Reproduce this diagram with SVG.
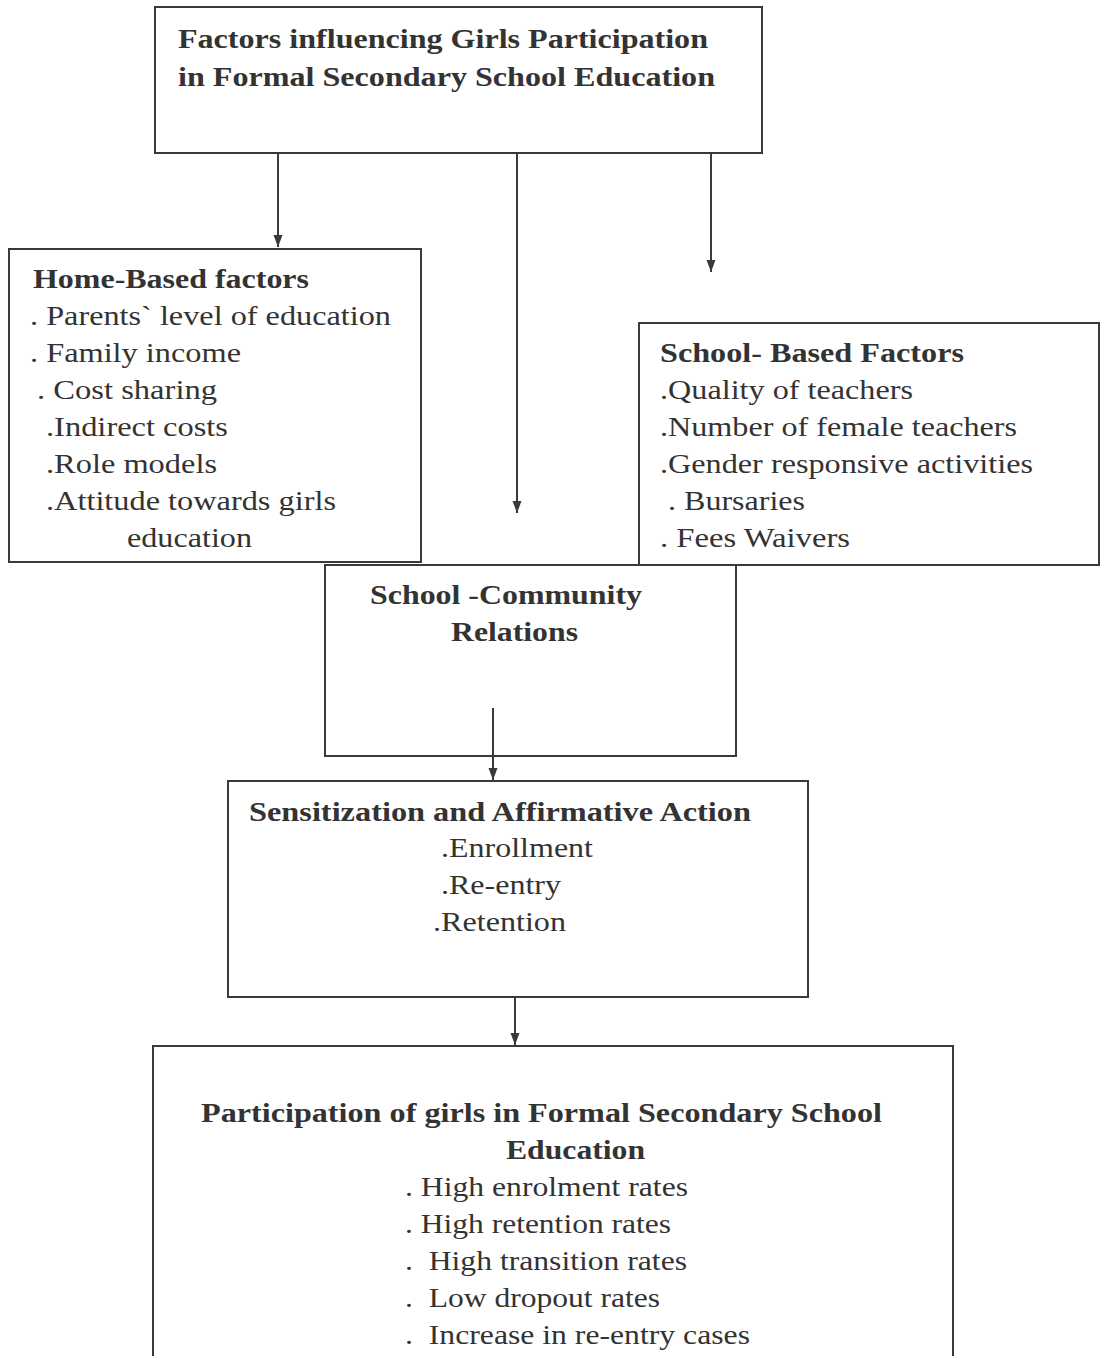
<svg xmlns="http://www.w3.org/2000/svg" width="1104" height="1356" viewBox="0 0 1104 1356">
<style>
.box{fill:none;stroke:#3a3a3a;stroke-width:2}
.t{font-family:"Liberation Serif","Times New Roman",Times,serif;font-size:28px;fill:#333;white-space:pre}
.b{font-family:"Liberation Serif","Times New Roman",Times,serif;font-size:27px;font-weight:bold;fill:#333;white-space:pre}
.c{stroke:#3a3a3a;stroke-width:2;fill:none}
</style>
<defs>
<marker id="ah" viewBox="0 0 12 10" refX="12" refY="5" markerWidth="12" markerHeight="10" markerUnits="userSpaceOnUse" orient="auto">
<path d="M0,0.5 L12,5 L0,9.5 z" fill="#3a3a3a"/>
</marker>
</defs>
<rect width="1104" height="1356" fill="#fff"/>
<g id="connectors">
<line class="c" x1="278" y1="153" x2="278" y2="247" marker-end="url(#ah)"/>
<line class="c" x1="517" y1="153" x2="517" y2="513" marker-end="url(#ah)"/>
<line class="c" x1="711" y1="153" x2="711" y2="272" marker-end="url(#ah)"/>
<line class="c" x1="493" y1="708" x2="493" y2="780" marker-end="url(#ah)"/>
<line class="c" x1="515" y1="997" x2="515" y2="1045" marker-end="url(#ah)"/>
</g>
<g id="node-top">
<rect class="box" x="155" y="7" width="607" height="146"/>
<text class="b" x="178" y="48" textLength="530" lengthAdjust="spacingAndGlyphs">Factors influencing Girls Participation</text>
<text class="b" x="178" y="86" textLength="537" lengthAdjust="spacingAndGlyphs">in Formal Secondary School Education</text>
</g>
<g id="node-home">
<rect class="box" x="9" y="249" width="412" height="313"/>
<text class="b" x="33" y="288" textLength="276" lengthAdjust="spacingAndGlyphs">Home-Based factors</text>
<text class="t" x="30" y="325" textLength="361" lengthAdjust="spacingAndGlyphs">. Parents` level of education</text>
<text class="t" x="30" y="362" textLength="211" lengthAdjust="spacingAndGlyphs">. Family income</text>
<text class="t" x="37" y="399" textLength="180" lengthAdjust="spacingAndGlyphs">. Cost sharing</text>
<text class="t" x="46" y="436" textLength="182" lengthAdjust="spacingAndGlyphs">.Indirect costs</text>
<text class="t" x="46" y="473" textLength="171" lengthAdjust="spacingAndGlyphs">.Role models</text>
<text class="t" x="46" y="510" textLength="290" lengthAdjust="spacingAndGlyphs">.Attitude towards girls</text>
<text class="t" x="127" y="547" textLength="125" lengthAdjust="spacingAndGlyphs">education</text>
</g>
<g id="node-school">
<rect class="box" x="639" y="323" width="460" height="242"/>
<text class="b" x="660" y="362" textLength="304" lengthAdjust="spacingAndGlyphs">School- Based Factors</text>
<text class="t" x="660" y="399" textLength="253" lengthAdjust="spacingAndGlyphs">.Quality of teachers</text>
<text class="t" x="660" y="436" textLength="357" lengthAdjust="spacingAndGlyphs">.Number of female teachers</text>
<text class="t" x="660" y="473" textLength="373" lengthAdjust="spacingAndGlyphs">.Gender responsive activities</text>
<text class="t" x="668" y="510" textLength="137" lengthAdjust="spacingAndGlyphs">. Bursaries</text>
<text class="t" x="660" y="547" textLength="190" lengthAdjust="spacingAndGlyphs">. Fees Waivers</text>
</g>
<g id="node-community">
<rect class="box" x="325" y="565" width="411" height="191"/>
<text class="b" x="370" y="604" textLength="272" lengthAdjust="spacingAndGlyphs">School -Community</text>
<text class="b" x="451" y="641" textLength="127" lengthAdjust="spacingAndGlyphs">Relations</text>
</g>
<g id="node-sensitization">
<rect class="box" x="228" y="781" width="580" height="216"/>
<text class="b" x="249" y="821" textLength="502" lengthAdjust="spacingAndGlyphs">Sensitization and Affirmative Action</text>
<text class="t" x="441" y="857" textLength="152" lengthAdjust="spacingAndGlyphs">.Enrollment</text>
<text class="t" x="441" y="894" textLength="120" lengthAdjust="spacingAndGlyphs">.Re-entry</text>
<text class="t" x="433" y="931" textLength="133" lengthAdjust="spacingAndGlyphs">.Retention</text>
</g>
<g id="node-participation">
<path class="box" d="M153,1360 L153,1046 L953,1046 L953,1360"/>
<text class="b" x="201" y="1122" textLength="681" lengthAdjust="spacingAndGlyphs">Participation of girls in Formal Secondary School</text>
<text class="b" x="506" y="1159" textLength="139" lengthAdjust="spacingAndGlyphs">Education</text>
<text class="t" x="405" y="1196" textLength="283" lengthAdjust="spacingAndGlyphs">. High enrolment rates</text>
<text class="t" x="405" y="1233" textLength="266" lengthAdjust="spacingAndGlyphs">. High retention rates</text>
<text class="t" x="405" y="1270" textLength="282" lengthAdjust="spacingAndGlyphs">.  High transition rates</text>
<text class="t" x="405" y="1307" textLength="255" lengthAdjust="spacingAndGlyphs">.  Low dropout rates</text>
<text class="t" x="405" y="1344" textLength="345" lengthAdjust="spacingAndGlyphs">.  Increase in re-entry cases</text>
</g>
</svg>
